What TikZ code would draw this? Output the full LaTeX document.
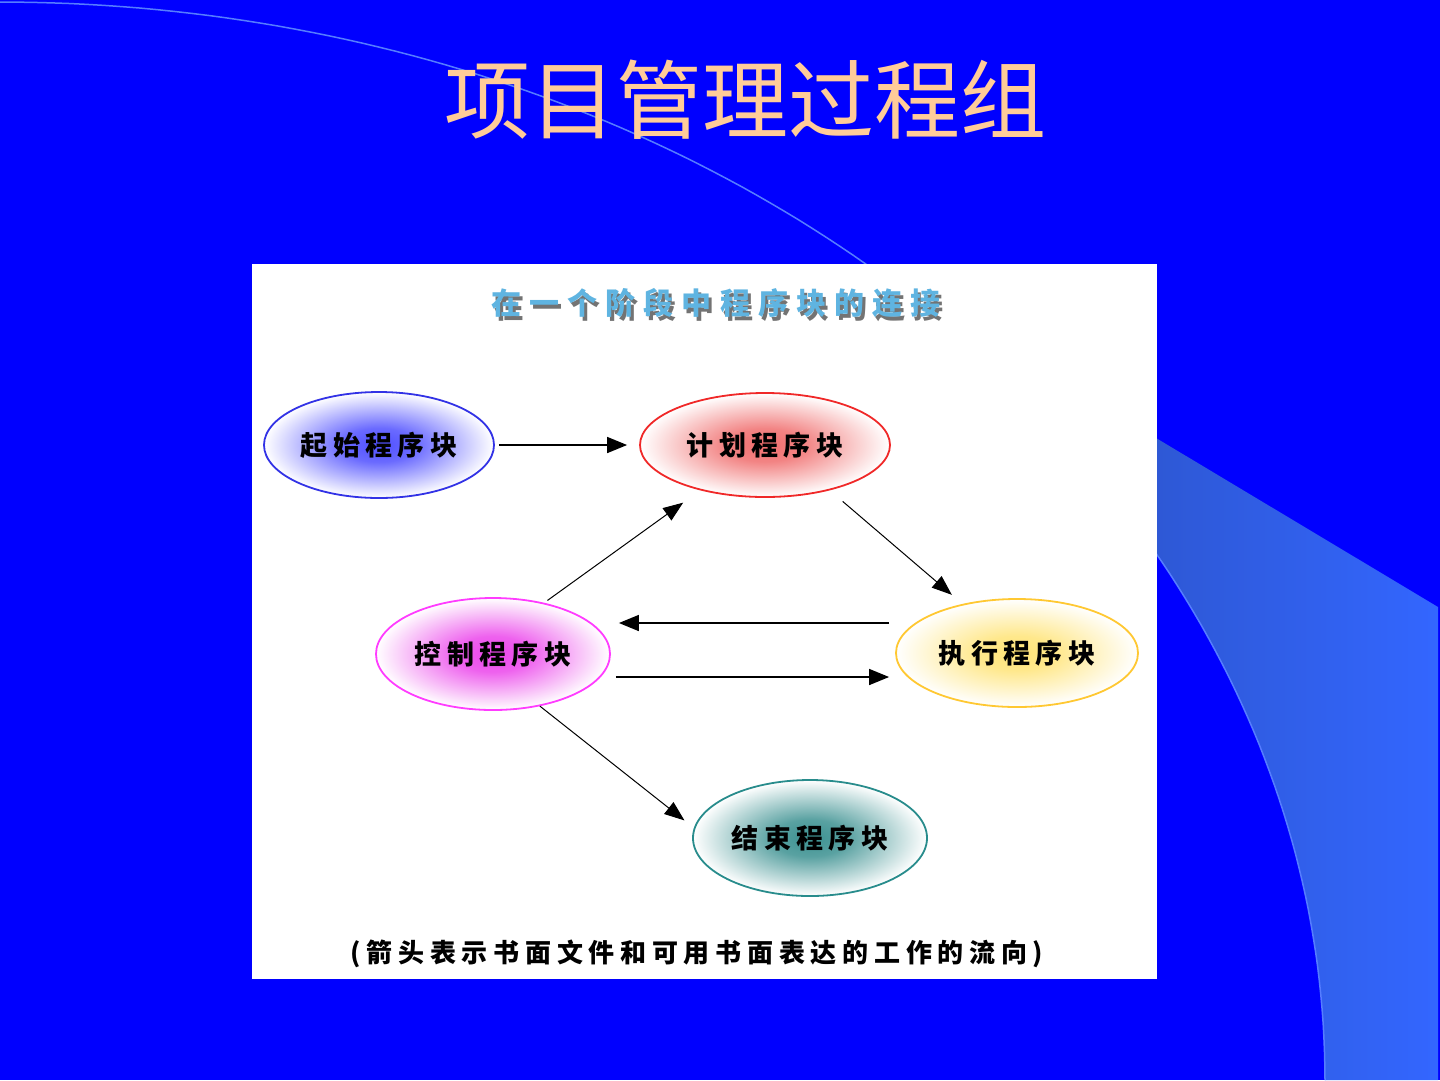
\documentclass[tikz,border=0pt]{standalone}
\usepackage{fontspec}
\newfontfamily\cjk{Noto Sans CJK SC}
\newfontfamily\cjkS[LetterSpace=20]{Noto Sans CJK SC}
\newfontfamily\cjkC[LetterSpace=22]{Noto Sans CJK SC}
\newfontfamily\cjkT[LetterSpace=27]{Noto Sans CJK SC}
\usetikzlibrary{shapes.geometric,arrows.meta,calc}
\definecolor{bg}{RGB}{0,0,255}
\definecolor{bandL}{RGB}{41,74,170}
\definecolor{bandR}{RGB}{51,102,255}
\definecolor{arcline}{RGB}{85,125,255}
\definecolor{titlec}{RGB}{255,204,153}
\definecolor{ptitlec}{RGB}{95,180,225}
\definecolor{cStart}{RGB}{80,80,255}
\definecolor{bStart}{RGB}{50,50,230}
\definecolor{cPlan}{RGB}{240,110,110}
\definecolor{bPlan}{RGB}{240,40,40}
\definecolor{cCtrl}{RGB}{235,70,235}
\definecolor{bCtrl}{RGB}{255,60,255}
\definecolor{cExec}{RGB}{255,228,120}
\definecolor{bExec}{RGB}{255,200,50}
\definecolor{cEnd}{RGB}{60,145,145}
\definecolor{bEnd}{RGB}{40,140,140}
\newcommand\mkshade[2]{\pgfdeclareradialshading{#1}{\pgfpoint{0bp}{0bp}}{color(0bp)=(#2);color(8bp)=(#2!85!white);color(16bp)=(#2!45!white);color(25bp)=(white);color(50bp)=(white)}}
\mkshade{shStart}{cStart}
\mkshade{shPlan}{cPlan}
\mkshade{shCtrl}{cCtrl}
\mkshade{shExec}{cExec}
\mkshade{shEnd}{cEnd}
\newcommand\shadowtext[1]{\rlap{\raisebox{-4pt}{\hspace{3pt}\textcolor{black!55}{#1}}}#1}
\tikzset{
  blk/.style={ellipse, inner sep=0pt, line width=1.8pt, text=black,
    font=\cjkS\bfseries\fontsize{27}{27}\selectfont},
  arr/.style={-{Triangle[length=20pt,width=16pt]}, line width=1.6pt},
  darr/.style={-{Triangle[length=20pt,width=15pt]}, line width=1pt}
}
\begin{document}
\begin{tikzpicture}[x=1pt,y=-1pt]
\useasboundingbox (0,0) rectangle (1440,1080);
\fill[bg] (0,0) rectangle (1440,1080);
% light band
\shade[left color=bandL, right color=bandR]
  (1325,1080) -- plot[domain=0:49.2,samples=80] ({1325*cos(\x)},{1080-1078*sin(\x)})
  -- (1438,607) -- (1438,1080) -- cycle;
% thin arc
\draw[arcline, line width=1.5pt] plot[domain=0:90,samples=120] ({1325*cos(\x)},{1080-1078*sin(\x)});
% white panel
\fill[white] (252,264) rectangle (1157,979);
% panel title
\node[font=\cjkT\bfseries\fontsize{30}{30}\selectfont, text=ptitlec] (ptitle) at (716,305) {\shadowtext{在一个阶段中程序块的连接}};
% blocks
\node[blk, draw=bStart, shading=shStart, minimum width=230pt, minimum height=106pt] (start) at (379,445) {起始程序块};
\node[blk, draw=bPlan, shading=shPlan, minimum width=250pt, minimum height=104pt] (plan) at (765,445) {计划程序块};
\node[blk, draw=bCtrl, shading=shCtrl, minimum width=234pt, minimum height=112pt] (ctrl) at (493,654) {控制程序块};
\node[blk, draw=bExec, shading=shExec, minimum width=242pt, minimum height=108pt] (exec) at (1017,653) {执行程序块};
\node[blk, draw=bEnd, shading=shEnd, minimum width=234pt, minimum height=116pt] (end) at (810,838) {结束程序块};
% connectors
\draw[arr, shorten <=4pt, shorten >=12pt] (start.east) -- (plan.west);
\draw[darr, shorten <=17pt, shorten >=14pt] (plan.-35) -- (exec.138);
\draw[darr, shorten <=4pt, shorten >=21pt] (ctrl.45) -- (plan.215);
\draw[arr, shorten <=6pt, shorten >=8pt] ([yshift=30pt]exec.west) -- ([yshift=31pt]ctrl.east);
\draw[arr, shorten <=5pt, shorten >=6pt] ([yshift=-23pt]ctrl.east) -- ([yshift=-24pt]exec.west);
\draw[darr, shorten >=12pt] (ctrl.-48) -- (end.175);
% caption
\node[font=\cjkC\bfseries\fontsize{26}{26}\selectfont, text=black] (cap) at (697,954) {(箭头表示书面文件和可用书面表达的工作的流向)};
% title
\node[font=\cjk\fontsize{86}{86}\selectfont, text=titlec] (title) at (745,100) {项目管理过程组};
\end{tikzpicture}
\end{document}
